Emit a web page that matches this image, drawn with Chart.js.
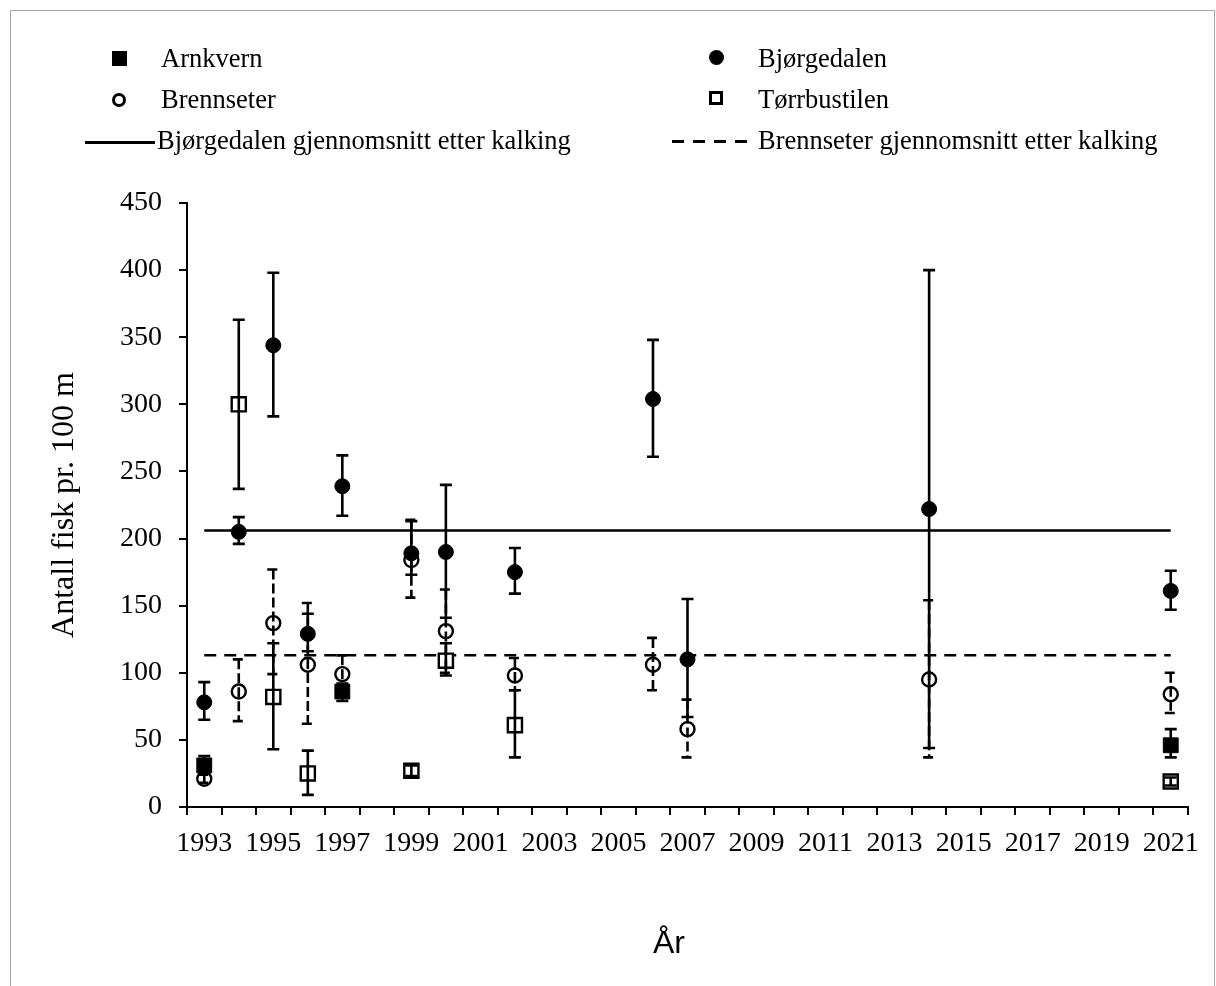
<!DOCTYPE html>
<html>
<head>
<meta charset="utf-8">
<script src="https://cdn.jsdelivr.net/npm/chart.js@4"></script>
<style>
  html, body { margin: 0; padding: 0; background: #fff; overflow: hidden; }
  #wrap { position: relative; width: 1216px; height: 986px; }
  #frame { position: absolute; left: 10px; top: 10px; width: 1203px; height: 1000px; border: 1px solid #a6a6a6; }
  #chartBox { position: absolute; left: 0; top: 0; width: 1216px; height: 986px; }
  .lg-text { position: absolute; font-family: 'Liberation Serif', 'Times New Roman', serif; font-size: 26.5px; line-height: 30px; color: #000; white-space: nowrap; }
  .mk { position: absolute; box-sizing: border-box; }
  #xTitle { position: absolute; left: 653px; top: 926px; font-family: 'Liberation Sans', Arial, sans-serif; font-size: 32px; line-height: 32px; color: #000; }
</style>
</head>
<body>
<div id="wrap">
  <div id="frame"></div>
  <div id="chartBox"><canvas id="fiskChart"></canvas></div>

  <!-- tegnforklaring -->
  <div class="mk" style="left:112px;top:51px;width:15px;height:15px;background:#000;"></div>
  <div class="lg-text" style="left:161px;top:43px;">Arnkvern</div>
  <div class="mk" style="left:709px;top:50px;width:15px;height:15px;border-radius:50%;background:#000;"></div>
  <div class="lg-text" style="left:758px;top:43px;">Bjørgedalen</div>

  <div class="mk" style="left:112px;top:93px;width:14px;height:14px;border-radius:50%;border:3px solid #000;"></div>
  <div class="lg-text" style="left:161px;top:84px;">Brennseter</div>
  <div class="mk" style="left:709px;top:91px;width:14px;height:14px;border:3px solid #000;"></div>
  <div class="lg-text" style="left:758px;top:84px;">Tørrbustilen</div>

  <div class="mk" style="left:85px;top:141px;width:70px;height:2.5px;background:#000;"></div>
  <div class="lg-text" style="left:157px;top:125px;">Bjørgedalen gjennomsnitt etter kalking</div>
  <div class="mk" style="left:672px;top:140px;width:75px;height:2.5px;background:repeating-linear-gradient(to right,#000 0,#000 12px,transparent 12px,transparent 21px);"></div>
  <div class="lg-text" style="left:758px;top:125px;">Brennseter gjennomsnitt etter kalking</div>

  <div id="xTitle">År</div>
</div>

<script>
// Årstall på x-aksen
const yearTicks = [1993, 1994, 1995, 1996, 1997, 1998, 1999, 2000, 2001, 2002, 2003, 2004, 2005, 2006, 2007,
                   2008, 2009, 2010, 2011, 2012, 2013, 2014, 2015, 2016, 2017, 2018, 2019, 2020, 2021];

// Arnkvern
const arnYears = [1993, 1997, 2021];
const arnValues = [31, 86, 46];
const arnHigh = [38, 92, 58];
const arnLow = [25, 79, 37];

// Bjørgedalen
const bjorgYears = [1993, 1994, 1995, 1996, 1997, 1999, 2000, 2002, 2006, 2007, 2014, 2021];
const bjorgValues = [78, 205, 344, 129, 239, 189, 190, 175, 304, 110, 222, 161];
const bjorgHigh = [93, 216, 398, 144, 262, 213, 240, 193, 348, 155, 400, 176];
const bjorgLow = [65, 196, 291, 116, 217, 173, 141, 159, 261, 67, 44, 147];

// Brennseter
const brennYears = [1993, 1994, 1995, 1996, 1997, 1999, 2000, 2002, 2006, 2007, 2014, 2021];
const brennValues = [21, 86, 137, 106, 99, 184, 131, 98, 106, 58, 95, 84];
const brennHigh = [24, 110, 177, 152, 113, 214, 162, 111, 126, 80, 154, 100];
const brennLow = [18, 64, 99, 62, 88, 156, 100, 87, 87, 37, 37, 70];

// Tørrbustilen
const torrYears = [1994, 1995, 1996, 1999, 2000, 2002, 2021];
const torrValues = [300, 82, 25, 27, 109, 61, 19];
const torrHigh = [363, 122, 42, 31, 122, 87, 22];
const torrLow = [237, 43, 9, 23, 98, 37, 16];

// Gjennomsnitt etter kalking
const meanYears = [1993, 2021];
const bjorgMean = 206;
const brennMean = 113;

function toPoints(xs, ys) {
    return xs.map((x, i) => ({ x: x, y: ys[i] }));
}

// Feilstolper tegnes etter punktene (som i Excel)
const errorBars = {
    id: 'errorBars',
    afterDatasetsDraw(chart) {
        const ctx = chart.ctx;
        const yScale = chart.scales.y;
        chart.data.datasets.forEach((ds, i) => {
            if (!ds.errorHigh) return;
            const meta = chart.getDatasetMeta(i);
            ctx.save();
            ctx.strokeStyle = '#000';
            ctx.lineWidth = 2.6;
            ctx.setLineDash(ds.errorDash || []);
            meta.data.forEach((pt, j) => {
                const yHi = yScale.getPixelForValue(ds.errorHigh[j]);
                const yLo = yScale.getPixelForValue(ds.errorLow[j]);
                ctx.beginPath();
                ctx.moveTo(pt.x, yHi);
                ctx.lineTo(pt.x, yLo);
                ctx.moveTo(pt.x - 6, yHi);
                ctx.lineTo(pt.x + 6, yHi);
                ctx.moveTo(pt.x - 6, yLo);
                ctx.lineTo(pt.x + 6, yLo);
                ctx.stroke();
            });
            ctx.restore();
        });
    }
};

document.addEventListener('DOMContentLoaded', function() {
    const ctx = document.getElementById('fiskChart');
    Chart.defaults.font.family = "'Liberation Serif', 'Times New Roman', serif";
    Chart.defaults.color = '#000';

    new Chart(ctx, {
        type: 'scatter',
        data: {
            datasets: [
                {
                    label: 'Arnkvern',
                    data: toPoints(arnYears, arnValues),
                    errorHigh: arnHigh,
                    errorLow: arnLow,
                    pointStyle: 'rect',
                    pointRadius: 10.5,
                    backgroundColor: '#000',
                    borderColor: '#000',
                    borderWidth: 1
                },
                {
                    label: 'Bjørgedalen',
                    data: toPoints(bjorgYears, bjorgValues),
                    errorHigh: bjorgHigh,
                    errorLow: bjorgLow,
                    pointStyle: 'circle',
                    pointRadius: 7.5,
                    backgroundColor: '#000',
                    borderColor: '#000',
                    borderWidth: 1
                },
                {
                    label: 'Brennseter',
                    data: toPoints(brennYears, brennValues),
                    errorHigh: brennHigh,
                    errorLow: brennLow,
                    errorDash: [10, 4],
                    pointStyle: 'circle',
                    pointRadius: 7,
                    backgroundColor: '#fff',
                    borderColor: '#000',
                    borderWidth: 2.4
                },
                {
                    label: 'Tørrbustilen',
                    data: toPoints(torrYears, torrValues),
                    errorHigh: torrHigh,
                    errorLow: torrLow,
                    pointStyle: 'rect',
                    pointRadius: 10,
                    backgroundColor: '#fff',
                    borderColor: '#000',
                    borderWidth: 2.4
                },
                {
                    label: 'Bjørgedalen gjennomsnitt etter kalking',
                    data: toPoints(meanYears, meanYears.map(() => bjorgMean)),
                    showLine: true,
                    borderColor: '#000',
                    borderWidth: 2.5,
                    pointRadius: 0
                },
                {
                    label: 'Brennseter gjennomsnitt etter kalking',
                    data: toPoints(meanYears, meanYears.map(() => brennMean)),
                    showLine: true,
                    borderColor: '#000',
                    borderWidth: 2.5,
                    borderDash: [12, 8],
                    pointRadius: 0
                }
            ]
        },
        options: {
            responsive: true,
            maintainAspectRatio: false,
            animation: false,
            events: [],
            layout: {
                padding: { left: 0, top: 203, right: 28, bottom: 0 }
            },
            scales: {
                x: {
                    type: 'linear',
                    min: 1992.5,
                    max: 2021.5,
                    afterBuildTicks: function(scale) {
                        scale.ticks = yearTicks.map(v => ({ value: v }));
                    },
                    afterFit: function(scale) {
                        scale.height = 179;
                    },
                    ticks: {
                        autoSkip: false,
                        maxRotation: 0,
                        padding: 12,
                        font: { size: 28 },
                        callback: function(value) {
                            return value % 2 === 1 ? String(value) : '';
                        }
                    },
                    grid: {
                        offset: true,
                        drawOnChartArea: false,
                        drawTicks: true,
                        tickLength: 8,
                        color: '#000',
                        lineWidth: 2
                    },
                    border: { display: true, color: '#000', width: 2 }
                },
                y: {
                    min: 0,
                    max: 450,
                    afterFit: function(scale) {
                        scale.width = 187;
                    },
                    ticks: {
                        stepSize: 50,
                        padding: 17,
                        font: { size: 28 }
                    },
                    grid: {
                        drawOnChartArea: false,
                        drawTicks: true,
                        tickLength: 8,
                        color: '#000',
                        lineWidth: 2
                    },
                    border: { display: true, color: '#000', width: 2 },
                    title: {
                        display: true,
                        text: 'Antall fisk pr. 100 m',
                        font: { size: 32 },
                        padding: { top: 45 }
                    }
                }
            },
            plugins: {
                legend: { display: false },
                tooltip: { enabled: false }
            }
        },
        plugins: [errorBars]
    });
});
</script>
</body>
</html>
